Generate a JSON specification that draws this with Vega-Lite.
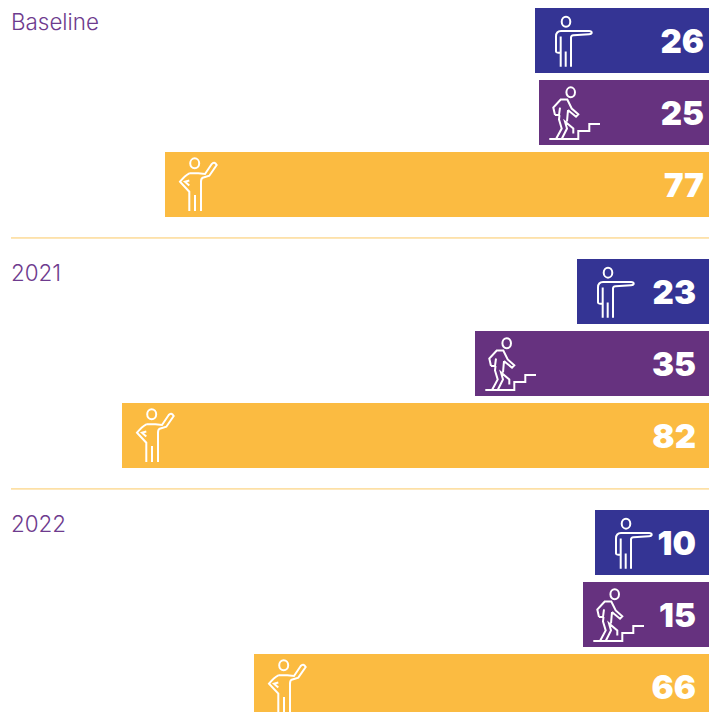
{"$schema":"https://vega.github.io/schema/vega-lite/v6.json","width":709,"height":712,"autosize":"none","padding":0,"background":"white","config":{"view":{"stroke":null}},
"data":{"values":[
{"group":"Baseline","series":"Pointing","value":26,"length":174},
{"group":"Baseline","series":"Climbing","value":25,"length":170},
{"group":"Baseline","series":"Waving","value":77,"length":544},
{"group":"2021","series":"Pointing","value":23,"length":132},
{"group":"2021","series":"Climbing","value":35,"length":234},
{"group":"2021","series":"Waving","value":82,"length":587},
{"group":"2022","series":"Pointing","value":10,"length":114},
{"group":"2022","series":"Climbing","value":15,"length":126},
{"group":"2022","series":"Waving","value":66,"length":455}]},
"layer":[
{"mark":{"type":"bar","clip":true},"encoding":{
"y":{"field":"group","type":"nominal","axis":null,"sort":null,"scale":{"type":"band","domain":["Baseline","2021","2022"],"range":[8,719],"paddingInner":0.167,"paddingOuter":0}},
"yOffset":{"field":"series","type":"nominal","sort":null,"scale":{"domain":["Pointing","Climbing","Waving"],"paddingInner":0.097,"paddingOuter":0}},
"x":{"field":"length","type":"quantitative","axis":null,"scale":{"domain":[0,709],"reverse":true,"nice":false,"zero":true}},
"color":{"field":"series","type":"nominal","legend":null,"scale":{"domain":["Pointing","Climbing","Waving"],"range":["#343494","#66327F","#FBBB41"]}}}},
{"mark":{"type":"point","clip":true,"filled":false,"stroke":"white","strokeWidth":2,"size":4,"opacity":1,"fill":null},"encoding":{
"y":{"field":"group","type":"nominal","axis":null,"sort":null},
"yOffset":{"field":"series","type":"nominal","sort":null},
"x":{"field":"length","type":"quantitative","axis":null},
"shape":{"field":"series","type":"nominal","legend":null,"scale":{"domain":["Pointing","Climbing","Waving"],"range":[
"M21 11V-4Q21 -9.5 26 -9.5H54Q56.7 -9.5 56.7 -8Q56.7 -6.3 54 -6.2L38.5 -5.2Q36 -5 36 -3V26.2M30.7 11V26.2M25.7 -4V26.2M21 11Q21 12.3 25.7 12.3M35.3 -18.8A4.3 5 0 1 0 26.7 -18.8A4.3 5 0 1 0 35.3 -18.8",
"M16 2.5L14.3 -5L21.7 -13H28.3L32.7 -4L39.3 1.8L37 4.2L31 -0.8L29 -2.5M16 2.5H20L21 -5M20.5 2.5L20 7L22.7 16L17 26.5M22.7 26.5L28 16L26 9L34.3 16V21M29 -2.5L28 9M10.3 26.5H39.3V18.5H50.3V11.5H61M36 -20.2A4.3 5 0 1 0 27.4 -20.2A4.3 5 0 1 0 36 -20.2",
"M24.3 -11.2H33.3L40 -10.5L46.7 -20.5Q49.3 -23.5 51.7 -19.5L44.3 -8.8L37.7 -6.8Q36 -6 36 -2.8V26.5M24.3 -11.2Q20 -9 15 -2.8L24.3 7.2V26.5M30 10.5V26.5M24.3 -4L20 -2.8L24.3 1M34.2 -21.2A4.5 5 0 1 0 25.2 -21.2A4.5 5 0 1 0 34.2 -21.2"]}}}},
{"transform":[{"filter":"datum.group === 'Baseline'"}],"mark":{"type":"text","clip":true,"align":"right","baseline":"middle","font":"Inter","fontWeight":900,"fontSize":33,"color":"white","dy":2.5},"encoding":{
"y":{"field":"group","type":"nominal","axis":null,"sort":null},
"yOffset":{"field":"series","type":"nominal","sort":null},
"x":{"datum":5,"type":"quantitative"},
"text":{"field":"value","type":"quantitative"}}},
{"transform":[{"filter":"datum.group !== 'Baseline'"}],"mark":{"type":"text","clip":true,"align":"right","baseline":"middle","font":"Inter","fontWeight":900,"fontSize":33,"color":"white","dy":2.5},"encoding":{
"y":{"field":"group","type":"nominal","axis":null,"sort":null},
"yOffset":{"field":"series","type":"nominal","sort":null},
"x":{"datum":13,"type":"quantitative"},
"text":{"field":"value","type":"quantitative"}}},
{"data":{"values":[{"group":"Baseline"},{"group":"2021"}]},"mark":{"type":"rule","color":"#FBC964","strokeWidth":1},"encoding":{
"y":{"field":"group","type":"nominal","axis":null,"sort":null,"bandPosition":1.1},
"x":{"datum":698,"type":"quantitative"},"x2":{"datum":0}}},
{"data":{"values":[{"group":"Baseline"},{"group":"2021"},{"group":"2022"}]},"mark":{"type":"text","align":"left","baseline":"middle","font":"Inter","fontWeight":300,"fontSize":22.4,"color":"#6E3B8E"},"encoding":{
"y":{"field":"group","type":"nominal","axis":null,"sort":null,"bandPosition":0.072},
"x":{"datum":698,"type":"quantitative"},
"text":{"field":"group","type":"nominal"}}}
]}
